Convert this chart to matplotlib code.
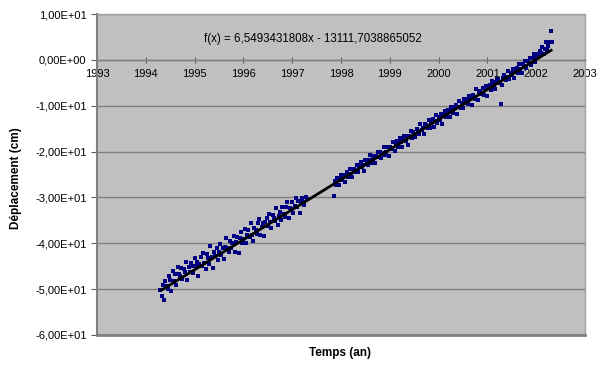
import matplotlib
matplotlib.use("Agg")
import matplotlib.pyplot as plt
from matplotlib.ticker import FuncFormatter

# ---- data ----
t_seg1 = [1994.300, 1994.325, 1994.350, 1994.375, 1994.400, 1994.425, 1994.450, 1994.475, 1994.500, 1994.525,
          1994.550, 1994.575, 1994.600, 1994.625, 1994.650, 1994.675, 1994.700, 1994.725, 1994.750, 1994.775,
          1994.800, 1994.825, 1994.850, 1994.875, 1994.900, 1994.925, 1994.950, 1994.975, 1995.000, 1995.025,
          1995.050, 1995.075, 1995.100, 1995.125, 1995.150, 1995.175, 1995.200, 1995.225, 1995.250, 1995.275,
          1995.300, 1995.325, 1995.350, 1995.375, 1995.400, 1995.425, 1995.450, 1995.475, 1995.500, 1995.525,
          1995.550, 1995.575, 1995.600, 1995.625, 1995.650, 1995.675, 1995.700, 1995.725, 1995.750, 1995.775,
          1995.800, 1995.825, 1995.850, 1995.875, 1995.900, 1995.925, 1995.950, 1995.975, 1996.000, 1996.025,
          1996.050, 1996.075, 1996.100, 1996.125, 1996.150, 1996.175, 1996.200, 1996.225, 1996.250, 1996.275,
          1996.300, 1996.325, 1996.350, 1996.375, 1996.400, 1996.425, 1996.450, 1996.475, 1996.500, 1996.525,
          1996.550, 1996.575, 1996.600, 1996.625, 1996.650, 1996.675, 1996.700, 1996.725, 1996.750, 1996.775,
          1996.800, 1996.825, 1996.850, 1996.875, 1996.900, 1996.925, 1996.950, 1996.975, 1997.000, 1997.025,
          1997.050, 1997.075, 1997.100, 1997.125, 1997.150, 1997.175, 1997.200, 1997.225, 1997.250, 1997.275,
          1997.300]
d_seg1 = [-50.1, -51.4, -49.2, -52.3, -48.2, -49.3, -50.0, -47.1, -48.0, -50.4,
          -46.1, -48.2, -46.6, -49.1, -45.1, -46.7, -47.2, -45.4, -47.7, -45.6,
          -46.2, -44.1, -47.9, -45.2, -46.2, -44.3, -45.0, -46.4, -43.3, -44.9,
          -44.1, -47.1, -44.5, -43.0, -45.0, -42.2, -44.4, -45.6, -42.4, -43.2,
          -44.5, -40.7, -43.0, -45.4, -42.0, -42.7, -41.0, -43.6, -41.9, -40.1,
          -42.6, -41.0, -43.4, -40.8, -38.9, -41.1, -42.0, -39.5, -41.0, -40.0,
          -38.5, -41.8, -39.8, -38.7, -42.1, -38.9, -37.6, -40.0, -39.1, -36.8,
          -39.9, -38.2, -37.0, -38.7, -35.5, -38.1, -39.6, -36.6, -37.0, -37.9,
          -35.5, -34.7, -38.1, -36.5, -35.6, -38.4, -35.4, -34.4, -36.3, -33.7,
          -35.4, -36.6, -33.9, -34.4, -35.2, -32.3, -36.1, -34.1, -33.1, -34.9,
          -32.1, -33.7, -34.3, -32.0, -31.1, -34.5, -32.2, -32.5, -31.1, -33.4,
          -31.8, -30.2, -32.1, -30.8, -33.5, -30.9, -30.1, -31.0, -31.7, -29.9,
          -30.3]
t_seg2 = [1997.850, 1997.875, 1997.900, 1997.925, 1997.950, 1997.975, 1998.000, 1998.025, 1998.050, 1998.075,
          1998.100, 1998.125, 1998.150, 1998.175, 1998.200, 1998.225, 1998.250, 1998.275, 1998.300, 1998.325,
          1998.350, 1998.375, 1998.400, 1998.425, 1998.450, 1998.475, 1998.500, 1998.525, 1998.550, 1998.575,
          1998.600, 1998.625, 1998.650, 1998.675, 1998.700, 1998.725, 1998.750, 1998.775, 1998.800, 1998.825,
          1998.850, 1998.875, 1998.900, 1998.925, 1998.950, 1998.975, 1999.000, 1999.025, 1999.050, 1999.075,
          1999.100, 1999.125, 1999.150, 1999.175, 1999.200, 1999.225, 1999.250, 1999.275, 1999.300, 1999.325,
          1999.350, 1999.375, 1999.400, 1999.425, 1999.450, 1999.475, 1999.500, 1999.525, 1999.550, 1999.575,
          1999.600, 1999.625, 1999.650, 1999.675, 1999.700, 1999.725, 1999.750, 1999.775, 1999.800, 1999.825,
          1999.850, 1999.875, 1999.900, 1999.925, 1999.950, 1999.975, 2000.000, 2000.025, 2000.050, 2000.075,
          2000.100, 2000.125, 2000.150, 2000.175, 2000.200, 2000.225, 2000.250, 2000.275, 2000.300, 2000.325,
          2000.350, 2000.375, 2000.400, 2000.425, 2000.450, 2000.475, 2000.500, 2000.525, 2000.550, 2000.575,
          2000.600, 2000.625, 2000.650, 2000.675, 2000.700, 2000.725, 2000.750, 2000.775, 2000.800, 2000.825,
          2000.850, 2000.875, 2000.900, 2000.925, 2000.950, 2000.975, 2001.000, 2001.025, 2001.050, 2001.075,
          2001.100, 2001.125, 2001.150, 2001.175, 2001.200, 2001.225, 2001.250, 2001.275, 2001.300, 2001.325,
          2001.350, 2001.375, 2001.400, 2001.425, 2001.450, 2001.475, 2001.500, 2001.525, 2001.550, 2001.575,
          2001.600, 2001.625, 2001.650, 2001.675, 2001.700, 2001.725, 2001.750, 2001.775, 2001.800, 2001.825,
          2001.850, 2001.875, 2001.900, 2001.925, 2001.950, 2001.975, 2002.000, 2002.025, 2002.050, 2002.075,
          2002.100, 2002.125, 2002.150, 2002.175, 2002.200, 2002.225, 2002.250, 2002.275, 2002.300, 2002.325]
d_seg2 = [-29.7, -26.4, -27.2, -25.7, -27.3, -26.0, -25.0, -26.2, -25.2, -26.6,
          -25.3, -24.5, -25.6, -23.7, -24.8, -25.5, -23.8, -23.9, -24.5, -23.0,
          -24.5, -23.2, -22.3, -23.4, -22.9, -24.2, -21.9, -22.6, -22.9, -21.8,
          -20.8, -22.6, -21.7, -20.9, -22.6, -21.0, -20.2, -21.2, -20.2, -21.5,
          -20.3, -18.9, -20.7, -20.1, -19.0, -21.0, -19.0, -19.2, -19.5, -18.0,
          -19.8, -18.4, -17.8, -19.0, -17.0, -18.0, -18.9, -17.3, -16.7, -17.6,
          -16.7, -18.5, -16.7, -15.6, -17.0, -15.8, -16.3, -16.9, -15.0, -15.6,
          -16.1, -13.9, -15.4, -14.8, -16.2, -14.0, -14.2, -14.8, -13.2, -14.9,
          -13.7, -12.9, -14.7, -13.3, -12.0, -13.8, -12.4, -13.1, -11.9, -14.0,
          -12.0, -11.2, -12.4, -11.8, -11.0, -12.4, -10.2, -10.9, -11.6, -10.3,
          -9.8, -11.7, -10.2, -8.9, -10.4, -9.4, -10.5, -8.6, -9.4, -8.6,
          -9.7, -7.8, -8.4, -9.8, -7.6, -8.1, -8.5, -6.4, -8.7, -7.3,
          -6.9, -7.5, -6.1, -7.7, -6.4, -5.7, -7.8, -6.2, -5.4, -6.5,
          -4.6, -5.4, -6.3, -4.8, -4.1, -4.2, -5.1, -9.6, -5.5, -3.9,
          -3.3, -4.5, -3.7, -2.4, -4.2, -2.8, -3.2, -2.0, -4.0, -2.2,
          -1.7, -2.8, -0.8, -2.0, -2.8, -1.0, -1.3, -0.3, -1.8, -0.2,
          -0.7, 0.5, -1.1, 0.4, 1.3, -0.4, 0.7, 1.2, 0.8, 1.9,
          1.4, 2.7, 1.3, 2.3, 3.8, 2.1, 3.1, 3.9, 6.3, 3.8]

# trend line coefficients as printed on the chart
slope = 6.5493431808
intercept = -13111.7038865052
trend_x = [1994.30, 2002.33]
equation = "f(x) = 6,5493431808x - 13111,7038865052"

x_ticks = [1993, 1994, 1995, 1996, 1997, 1998, 1999, 2000, 2001, 2002, 2003]
y_ticks = [10, 0, -10, -20, -30, -40, -50, -60]

plt.rcParams['font.family'] = ['Liberation Sans', 'DejaVu Sans']

fig = plt.figure(figsize=(5.97, 3.69), dpi=100)
ax = fig.add_axes([97/597, 1-335/369, 488/597, 321/369])
ax.set_facecolor('#C0C0C0')
ax.set_xlim(1993, 2003)
ax.set_ylim(-60, 10)

# grid lines
for yv in y_ticks:
    ax.axhline(yv, color='#808080', lw=1.0, zorder=1)

ax.scatter(t_seg1, d_seg1, s=7, marker='s', color='#000080', linewidths=0, zorder=3)
ax.scatter(t_seg2, d_seg2, s=7, marker='s', color='#000080', linewidths=0, zorder=3)

trend_y = [slope * x + intercept for x in trend_x]
ax.plot(trend_x, trend_y, color='black', lw=2.0, zorder=4, solid_capstyle='butt')

# spines
for s in ['top', 'right']:
    ax.spines[s].set_color('#A0A0A0')
    ax.spines[s].set_linewidth(1.0)
ax.spines['left'].set_color('#808080')
ax.spines['left'].set_linewidth(1.5)
ax.spines['bottom'].set_position(('data', 0))
ax.spines['bottom'].set_color('#808080')
ax.spines['bottom'].set_linewidth(1.0)
ax.axhline(-60, color='#808080', lw=2.0, zorder=5, clip_on=False)

ax.set_xticks(x_ticks)
ax.set_xticklabels([str(v) for v in x_ticks])
ax.set_yticks(y_ticks)
ax.yaxis.set_major_formatter(FuncFormatter(
    lambda v, p: ("%.2E" % v).replace('.', ',').replace('-0,00', '0,00')))
ax.tick_params(axis='both', labelsize=8, colors='black', length=4, width=0.8)
ax.tick_params(axis='x', direction='inout', length=5, pad=4, color='#606060')
ax.tick_params(axis='y', direction='out', color='#606060')

fig.text(313/597, 1 - 39/369, equation, fontsize=8.3, ha='center', va='center')

fig.text(16/597, 1 - 178/369, 'Déplacement (cm)', rotation=90, fontsize=8.5,
         fontweight='bold', ha='center', va='center')
fig.text(340/597, 1 - 353/369, 'Temps (an)', fontsize=8.5, fontweight='bold',
         ha='center', va='center')

fig.savefig('out.png', dpi=100)
